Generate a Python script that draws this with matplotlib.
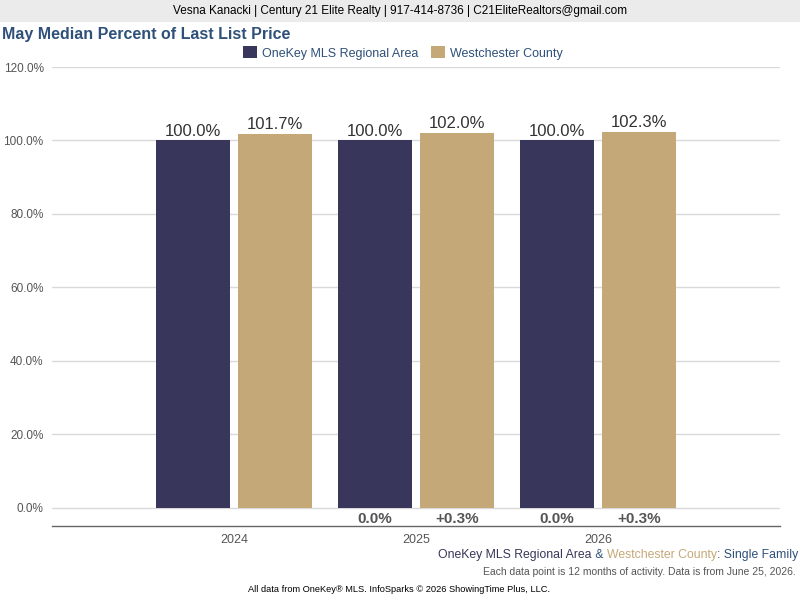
import numpy as np
import matplotlib
matplotlib.use('Agg')
import matplotlib.pyplot as plt
from matplotlib.patches import Rectangle

plt.rcParams['font.family'] = ['Liberation Sans', 'DejaVu Sans']

years = ['2024', '2025', '2026']
onekey = [100.0, 100.0, 100.0]
westchester = [101.7, 102.0, 102.3]
onekey_chg = [None, '0.0%', '0.0%']
westchester_chg = [None, '+0.3%', '+0.3%']
yticks = [0, 20, 40, 60, 80, 100, 120]

navy = '#38365a'
tan = '#c4a878'
blue = '#2e5079'
gray_txt = '#555555'

W, H = 800, 600
fig = plt.figure(figsize=(8, 6), dpi=100)

# header band
fig.patches.append(Rectangle((0, 1 - 22 / H), 1, 22 / H, transform=fig.transFigure,
                             facecolor='#ebebeb', edgecolor='none', zorder=0))
fig.text(0.5, 1 - 11 / H, 'Vesna Kanacki | Century 21 Elite Realty | 917-414-8736 | C21EliteRealtors@gmail.com',
         ha='center', va='center', fontsize=8.5, color='black')

fig.text(2 / W, 1 - 35 / H, 'May Median Percent of Last List Price', ha='left', va='center',
         fontsize=11.5, fontweight='bold', color=blue)

# axes: x 52..780, y 67..526
ax = fig.add_axes([52 / W, 1 - 526 / H, (780 - 52) / W, (526 - 67) / H])
ymin = -(526 - 507.5) / ((507.5 - 67) / 120)
ax.set_ylim(ymin, 120)
ax.set_xlim(-1, 3)

x = np.arange(len(years))
off = 0.225
w = 0.407
b1 = ax.bar(x - off, onekey, w, color=navy, zorder=3, label='OneKey MLS Regional Area')
b2 = ax.bar(x + off, westchester, w, color=tan, zorder=3, label='Westchester County')

for rect, v in zip(list(b1) + list(b2), onekey + westchester):
    ax.text(rect.get_x() + rect.get_width() / 2, v + 0.5, f'{v:.1f}%', ha='center', va='bottom',
            fontsize=12, color='#333333')

for xi, c1, c2 in zip(x, onekey_chg, westchester_chg):
    if c1 is not None:
        ax.text(xi - off, ymin / 2 - 0.7, c1, ha='center', va='center', fontsize=11,
                fontweight='bold', color=gray_txt)
        ax.text(xi + off, ymin / 2 - 0.7, c2, ha='center', va='center', fontsize=11,
                fontweight='bold', color=gray_txt)

ax.set_yticks(yticks)
ax.set_yticklabels([f'{t:.1f}%' for t in yticks], fontsize=8.5, color=gray_txt)
ax.set_xticks(x)
ax.set_xticklabels(years, fontsize=9, color=gray_txt)
ax.tick_params(axis='both', length=0)
ax.tick_params(axis='y', pad=6)
ax.tick_params(axis='x', pad=6)
ax.grid(axis='y', color='#d9d9d9', linewidth=1, zorder=0)
for s in ['top', 'right', 'left']:
    ax.spines[s].set_visible(False)
ax.spines['bottom'].set_color('#666666')
ax.spines['bottom'].set_linewidth(1)

leg = fig.legend(handles=[b1, b2], loc='center', bbox_to_anchor=(403 / W, 1 - 53 / H), ncol=2,
                 frameon=False, fontsize=9, handlelength=1.1, handleheight=1.1,
                 handletextpad=0.4, columnspacing=1.0)
for t in leg.get_texts():
    t.set_color(blue)

# footer line with coloured pieces, right-aligned
fig.canvas.draw()
r = fig.canvas.get_renderer()
pieces = [('OneKey MLS Regional Area', navy), (' & ', blue), ('Westchester County', tan),
          (': Single Family', blue)]
xr = 798 / W
yf = 1 - 555 / H
for txt, col in reversed(pieces):
    t = fig.text(xr, yf, txt, ha='right', va='center', fontsize=8.8, color=col)
    bb = t.get_window_extent(renderer=r)
    xr -= bb.width / W

fig.text(796 / W, 1 - 572 / H, 'Each data point is 12 months of activity. Data is from June 25, 2026.',
         ha='right', va='center', fontsize=7.5, color=gray_txt)
fig.text(248 / W, 1 - 590 / H, 'All data from OneKey® MLS. InfoSparks © 2026 ShowingTime Plus, LLC.',
         ha='left', va='center', fontsize=6.7, color='black')

fig.savefig('out.png', dpi=100)
